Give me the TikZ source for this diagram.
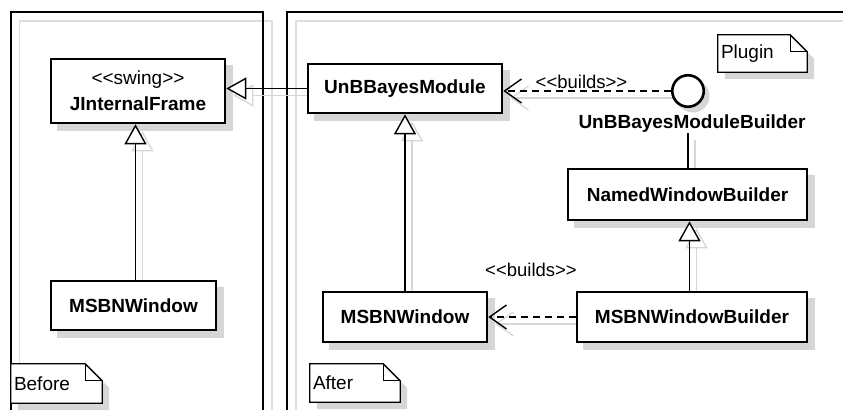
\documentclass[tikz,border=0pt]{standalone}
\usepackage{fontspec}
\setmainfont{Liberation Sans}
\usetikzlibrary{arrows.meta}
\pgfdeclarelayer{back}
\pgfsetlayers{back,main}
\newcommand\stereo[1]{<\kern0pt<#1>\kern0pt>}
\begin{document}
\begin{tikzpicture}[x=1pt,y=-1pt,
 cls/.style={draw,line width=2.6pt,fill=white,inner sep=0pt,align=center,
   font=\fontsize{19}{26}\selectfont\bfseries},
 ifcstyle/.style={circle,draw,line width=2.6pt,fill=white,inner sep=0pt,minimum size=31.5pt},
 lbl/.style={font=\fontsize{18.5}{22}\selectfont,inner sep=0pt},
 boldlbl/.style={font=\fontsize{19}{22}\selectfont\bfseries,inner sep=0pt,fill=white},
 notetext/.style={font=\fontsize{19}{22}\selectfont,inner xsep=3pt,inner ysep=0pt,align=left},
 frame/.style={draw,line width=1.3pt},
 frameshadow/.style={draw=black!13,line width=1.2pt},
 outline/.style={draw,line width=1.3pt,fill=white},
 shadowcol/.style={fill=black!16},
 conn/.style={draw,line width=1.4pt},
 cshadow/.style={draw=black!16,line width=1.3pt,transform canvas={xshift=7pt,yshift=-7pt}},
 gen/.style={-{Triangle[open,fill=white,length=20pt,width=22pt]}},
 gens/.style={-{Triangle[open,length=20pt,width=22pt]}},
 dep/.style={dash pattern=on 7pt off 5pt,-{Straight Barb[length=17pt,width=24pt]}},
 deps/.style={-{Straight Barb[length=17pt,width=24pt]}},
]
\useasboundingbox (0,0) rectangle (843,410);

% package frames
\begin{pgfonlayer}{back}
 \draw[frameshadow] (19.5,410) |- (272,21) -- (272,410);
 \draw[frame] (11,410) |- (263,12) -- (263,410);
 \draw[frameshadow] (296,410) |- (843,21);
 \draw[frame] (287,410) |- (843,12);
\end{pgfonlayer}

% classes
\node[cls,minimum width=174pt,minimum height=64pt] (jif) at (138,91)
  {\mdseries\stereo{swing}\\JInternalFrame};
\node[cls,minimum width=194pt,minimum height=49pt] (ubm) at (405,88.5) {UnBBayesModule};
\node[cls,minimum width=165pt,minimum height=49pt] (msbn1) at (133.5,305.5) {MSBNWindow};
\node[cls,minimum width=164pt,minimum height=50pt] (msbn2) at (405,317) {MSBNWindow};
\node[cls,minimum width=230pt,minimum height=50pt] (mwb) at (692,317) {MSBNWindowBuilder};
\node[cls,minimum width=239pt,minimum height=51pt] (nwb) at (687.5,194.5) {NamedWindowBuilder};
\node[ifcstyle] (ifc) at (688,91) {};
\node[boldlbl] (ifl) at (692,124) {UnBBayesModuleBuilder};

% labels
\node[lbl,anchor=base] (b1) at (581.5,88) {\stereo{builds}};
\node[lbl,anchor=base] (b2) at (531,276.5) {\stereo{builds}};

% notes
\node[notetext,text width=83pt,minimum height=37pt] (plugin) at (762.5,53.5) {Plugin};
\node[notetext,text width=85pt,minimum height=39pt] (before) at (56.5,383.5) {Before};
\node[notetext,text width=84pt,minimum height=38pt] (after) at (355,383) {After};

\coordinate (gx1) at (135.5,0);
\coordinate (gx2) at (689.5,0);

\begin{pgfonlayer}{back}
 % class and interface shadows
 \foreach \n in {jif,ubm,msbn1,msbn2,mwb,nwb}{
  \path[shadowcol] ([xshift=7pt,yshift=-7pt]\n.north west) rectangle ([xshift=7pt,yshift=-7pt]\n.south east);
 }
 \path[shadowcol] ([xshift=5pt,yshift=-5pt]ifc.center) circle (16.5);
 % notes
 \foreach \n in {plugin,before,after}{
  \path[shadowcol] ([xshift=7pt,yshift=-7pt]\n.north west) -- ([xshift=-10pt,yshift=-7pt]\n.north east) -- ([xshift=7pt,yshift=-24pt]\n.north east) -- ([xshift=7pt,yshift=-7pt]\n.south east) -- ([xshift=7pt,yshift=-7pt]\n.south west) -- cycle;
  \draw[outline] (\n.north west) -- ([xshift=-17pt]\n.north east) -- ([yshift=-17pt]\n.north east) -- (\n.south east) -- (\n.south west) -- cycle;
  \draw[line width=1.3pt] ([xshift=-17pt]\n.north east) -- ([xshift=-17pt,yshift=-17pt]\n.north east) -- ([yshift=-17pt]\n.north east);
 }
 % connector shadows
 \draw[cshadow,gens] (ubm.west) -- (ubm.west -| jif.east);
 \draw[cshadow,gens] (msbn1.north -| gx1) -- (jif.south -| gx1);
 \draw[cshadow,gens] (msbn2.north) -- (ubm.south);
 \draw[cshadow,gens] (mwb.north -| gx2) -- (nwb.south -| gx2);
 \draw[cshadow,deps] (ifc.west) -- (ifc.west -| ubm.east);
 \draw[cshadow,deps] (mwb.west) -- (mwb.west -| msbn2.east);
 \draw[cshadow] (ifl.south -| ifc) -- (nwb.north -| ifc);
\end{pgfonlayer}

% connectors
\draw[conn,gen] (ubm.west) -- (ubm.west -| jif.east);
\draw[conn,gen] (msbn1.north -| gx1) -- (jif.south -| gx1);
\draw[conn,gen] (msbn2.north) -- (ubm.south);
\draw[conn,gen] (mwb.north -| gx2) -- (nwb.south -| gx2);
\draw[conn,dep] (ifc.west) -- (ifc.west -| ubm.east);
\draw[conn,dep] (mwb.west) -- (mwb.west -| msbn2.east);
\draw[conn] (ifl.south -| ifc) -- (nwb.north -| ifc);
\end{tikzpicture}
\end{document}
